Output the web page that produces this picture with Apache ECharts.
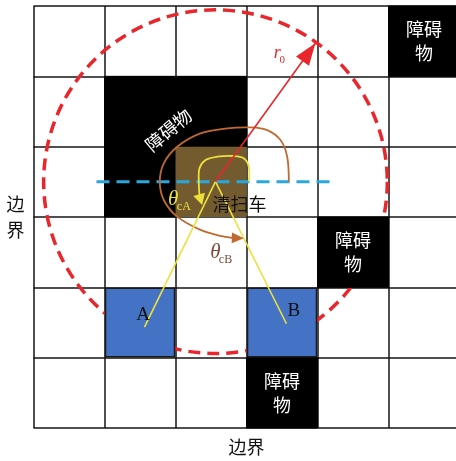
<!DOCTYPE html>
<html><head><meta charset="utf-8">
<script src="https://cdn.jsdelivr.net/npm/echarts@6/dist/echarts.min.js"></script>
<style>html,body{margin:0;padding:0;background:#fff;}#c{width:456px;height:461px;}</style>
</head><body><div id="c"></div>
<script>
// ---- data (grid units: column, row; row 0 at top) ----
const gridSize = [6, 6];
const obstacleCells = [[5,0],[1,1],[2,1],[1,2],[4,3],[3,5]];
const carCell = [[2,2]];
const targetCells = [[1,4],[3,4]];
const obstacleLabelCells = [[5,0],[4,3],[3,5]];
const obstacleLabelText = '障碍\n物';
const carCenter = [2.563, 2.498];
const sensingRadius = 2.42;
const r0End = [3.97, 0.53];
const pointA = [1.563, 4.565];
const pointB = [3.563, 4.518];
const headingLine = [[0.887, 2.498], [4.225, 2.498]];
const arcThetaB = [[3.596,2.498],[3.573,2.143],[3.479,1.906],[3.292,1.764],[3.056,1.726],[2.728,1.740],[2.352,1.811],[2.024,2.001],[1.835,2.237],[1.779,2.498],[1.835,2.758],[2.024,2.995],[2.352,3.184],[2.634,3.269],[2.80,3.297]];
const arcThetaA = [[3.032,2.498],[3.032,2.285],[2.962,2.166],[2.821,2.133],[2.587,2.143],[2.423,2.190],[2.338,2.308],[2.328,2.498],[2.338,2.698]];
const arrowHeads = [[3.97,0.53, 2.563,2.498],[2.962,3.302, 2.80,3.297],[2.376,2.829, 2.338,2.698]];
const textPos = [[1.967,2.748],[2.117,2.853],[2.563,3.506],[2.704,3.610],[3.432,0.676],[3.503,0.771],[1.545,4.390],[3.666,4.343],[2.901,2.815],[1.901,1.764]];
const textStr = ['θ','cA','θ','cB','r','0','A','B','清扫车','障碍物'];
const textKind = ['thA','subA','thB','subB','r','r0','pt','pt','car','big'];

// ---- styles ----
const CJK = '"Noto Sans CJK SC"';
const SERIF = '"Liberation Serif", "DejaVu Serif", serif';
const kindStyle = {
  thA:{fill:'#ece13a',font:'italic 21px '+SERIF},
  subA:{fill:'#ece13a',font:'12px '+SERIF},
  thB:{fill:'#7d4c3a',font:'italic 21px '+SERIF},
  subB:{fill:'#7d4c3a',font:'12px '+SERIF},
  r:{fill:'#e8262b',font:'italic 18px '+SERIF},
  r0:{fill:'#e8262b',font:'11px '+SERIF},
  pt:{fill:'#111',font:'19px '+SERIF},
  car:{fill:'#111',font:'18px '+CJK},
  big:{fill:'#fff',font:'18px '+CJK,rot:40}
};
const arrowStyle = [
  {color:'#e8262b',len:22,w:16},
  {color:'#c06a30',len:12,w:11},
  {color:'#ece13a',len:11,w:12}
];

function cellRender(fill, stroke, inset, lw){
  return function(params, api){
    const p0 = api.coord([api.value(0), api.value(1)]);
    const p1 = api.coord([api.value(0)+1, api.value(1)+1]);
    return {type:'rect', shape:{x:p0[0]+inset, y:p0[1]+inset, width:p1[0]-p0[0]-2*inset, height:p1[1]-p0[1]-2*inset},
      style:{fill:fill, stroke:stroke, lineWidth:lw}};
  };
}
function curveSeries(points, color, width, z){
  return {type:'custom', z:z, data:[[points[0][0], points[0][1]]], renderItem:function(params, api){
    const pts = points.map(function(p){ return api.coord(p); });
    return {type:'polyline', shape:{points:pts, smooth:0.35}, style:{fill:null, stroke:color, lineWidth:width}};
  }};
}

const chart = echarts.init(document.getElementById('c'), null, {renderer:'canvas'});
const axisCommon = {type:'value', min:0, interval:1, axisLine:{show:false}, axisTick:{show:false}, axisLabel:{show:false},
  splitLine:{show:true, lineStyle:{color:'#141414', width:1.5}},
  nameLocation:'middle', nameGap:10, nameTextStyle:{fontFamily:CJK, fontSize:18, color:'#111'}};
chart.setOption({
  animation:false,
  grid:{left:33.5, top:6, width:426, height:422, outerBoundsMode:'none', containLabel:false},
  xAxis:Object.assign({}, axisCommon, {max:gridSize[0], name:'边界', nameGap:10}),
  yAxis:Object.assign({}, axisCommon, {max:gridSize[1], inverse:true, name:'边\n界', nameRotate:0, nameGap:9,
    nameTextStyle:{fontFamily:CJK, fontSize:18, color:'#111', lineHeight:26}}),
  series:[
    {type:'custom', z:2, data:[[carCenter[0], carCenter[1], sensingRadius]],
      renderItem:function(params, api){
        const c = api.coord([api.value(0), api.value(1)]);
        const r = api.size([api.value(2), 0])[0];
        return {type:'circle', shape:{cx:c[0], cy:c[1], r:r}, style:{fill:null, stroke:'#e8262b', lineWidth:3.5, lineDash:[12,7]}};
      }},
    {type:'custom', z:3, data:obstacleCells, renderItem:cellRender('#000', '#000', 0, 1)},
    {type:'custom', z:3, data:carCell, renderItem:cellRender('#735b2f', null, 0, 0)},
    {type:'custom', z:3, data:targetCells, renderItem:cellRender('#4472c4', '#1a1a1a', 1, 1.5)},
    {type:'line', z:4, data:headingLine, showSymbol:false, lineStyle:{color:'#29a8e0', width:3, type:[13,7]}},
    curveSeries(arcThetaB, '#c06a30', 1.8, 5),
    {type:'line', z:5, data:[carCenter, pointA], showSymbol:false, lineStyle:{color:'#ece13a', width:1.6}},
    {type:'line', z:5, data:[carCenter, pointB], showSymbol:false, lineStyle:{color:'#ece13a', width:1.6}},
    curveSeries(arcThetaA, '#ece13a', 1.8, 5),
    {type:'line', z:6, data:[carCenter, r0End], showSymbol:false, lineStyle:{color:'#e8262b', width:1.6}},
    {type:'custom', z:7, data:arrowHeads, renderItem:function(params, api){
        const tip = api.coord([api.value(0), api.value(1)]);
        const from = api.coord([api.value(2), api.value(3)]);
        const dx = tip[0]-from[0], dy = tip[1]-from[1];
        const L = Math.hypot(dx, dy) || 1;
        const ux = dx/L, uy = dy/L, nx = -uy, ny = ux;
        const s = arrowStyle[params.dataIndex];
        const bx = tip[0]-ux*s.len, by = tip[1]-uy*s.len;
        return {type:'polygon', shape:{points:[tip,[bx+nx*s.w/2, by+ny*s.w/2],[bx-nx*s.w/2, by-ny*s.w/2]]}, style:{fill:s.color}};
      }},
    {type:'custom', z:8, data:obstacleLabelCells, renderItem:function(params, api){
        const c = api.coord([api.value(0)+0.5, api.value(1)+0.5]);
        return {type:'text', x:c[0], y:c[1], style:{text:obstacleLabelText, fill:'#fff', font:'18px '+CJK, lineHeight:24, align:'center', verticalAlign:'middle'}};
      }},
    {type:'custom', z:8, data:textPos, renderItem:function(params, api){
        const c = api.coord([api.value(0), api.value(1)]);
        const st = kindStyle[textKind[params.dataIndex]];
        return {type:'text', x:c[0], y:c[1], rotation:(st.rot||0)*Math.PI/180,
          style:{text:textStr[params.dataIndex], fill:st.fill, font:st.font, align:'center', verticalAlign:'middle'}};
      }}
  ]
});
</script></body></html>
